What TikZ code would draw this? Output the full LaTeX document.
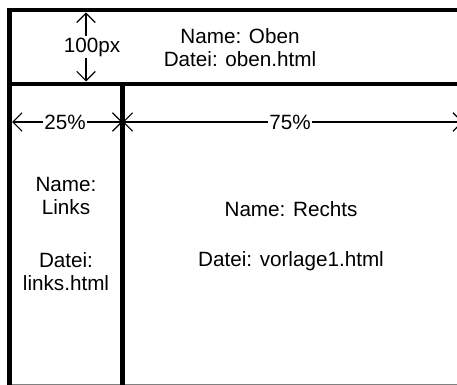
\documentclass[tikz,border=0pt]{standalone}
\usepackage{fontspec}
\setmainfont{Liberation Sans}
\usetikzlibrary{arrows.meta}
\tikzset{
  frameline/.style={line width=3.6pt},
  dimline/.style={line width=0.8pt,{Straight Barb[length=7pt,width=14pt]}-{Straight Barb[length=7pt,width=14pt]}},
  dimlabel/.style={fill=white, inner sep=1pt, font=\fontsize{15.5}{17.25}\selectfont},
  pagetext/.style={align=center, font=\fontsize{15.5}{17.25}\selectfont},
}
\begin{document}
\begin{tikzpicture}[x=0.75pt,y=-0.75pt]
  \useasboundingbox (0,0) rectangle (457,385);
  % Corners of the frameset (x and y in pixels)
  \coordinate (unten links) at (9.5,385);
  \coordinate (oben links) at (9.5,10);
  \coordinate (oben rechts) at (470,10);
  \coordinate (teilung links) at (9.5,84);
  \coordinate (teilung rechts) at (470,84);
  \coordinate (spalte oben) at (122.5,84);
  \coordinate (spalte unten) at (122.5,385);
  % End points of the measuring lines
  \coordinate (hoehe a) at (86,12.5);
  \coordinate (hoehe b) at (86,81.5);
  \coordinate (breite a) at (12,122);
  \coordinate (breite b) at (122.5,122);
  \coordinate (breite c) at (463,122);

  % Frame borders
  \draw[gray, line width=0.75pt] (7,384) -- (470,384);
  \draw[frameline] (unten links) -- (oben links) -- (oben rechts);
  \draw[frameline] (teilung links) -- (teilung rechts);
  \draw[frameline] (spalte oben) -- (spalte unten);

  % Measuring lines
  \draw[dimline] (hoehe a) -- (hoehe b);
  \draw[dimline] (breite a) -- (breite b);
  \draw[dimline] (breite b) -- (breite c);
  \node[dimlabel] (hoehe) at (92,47) {100px};
  \node[dimlabel] (breite links) at (65,122) {25\%};
  \node[dimlabel] (breite rechts) at (290,122) {75\%};

  % Frame names and files
  \node[pagetext] (oben) at (240,48) {Name: Oben\\Datei: oben.html};
  \node[pagetext] (links) at (66,234) {Name:\\Links\\[22pt]Datei:\\links.html};
  \node[pagetext] (rechts) at (291,236) {Name: Rechts\\[20.25pt]Datei: vorlage1.html};
\end{tikzpicture}
\end{document}
